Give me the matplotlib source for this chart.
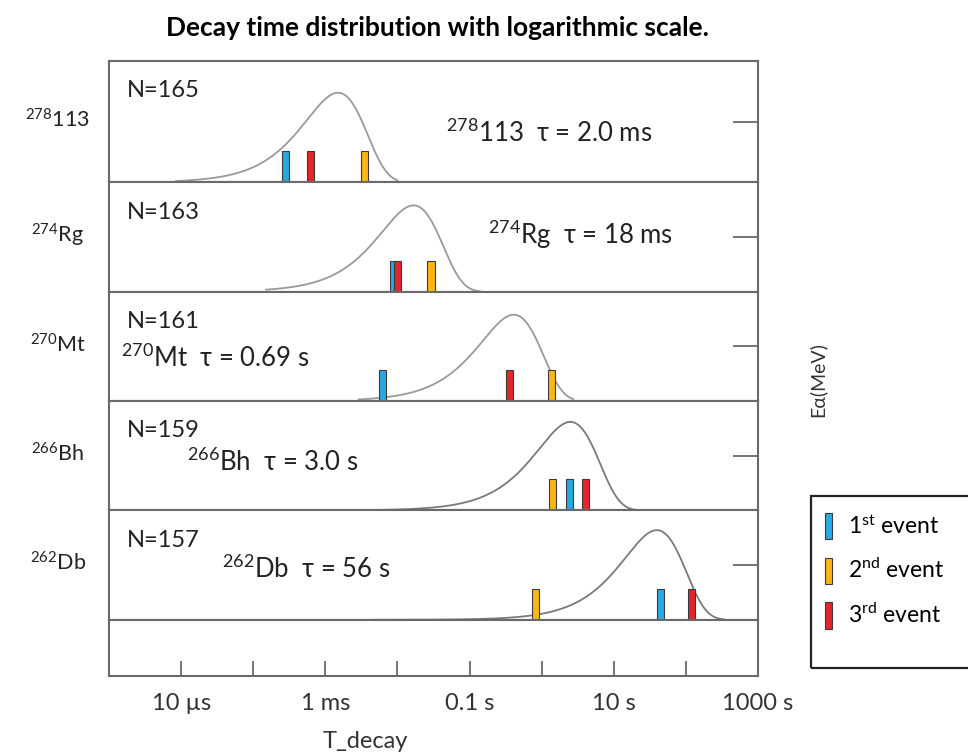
import matplotlib.pyplot as plt
import numpy as np
from matplotlib.patches import Patch, Rectangle

plt.rcParams["font.family"] = ["Lato", "Noto Sans", "DejaVu Sans"]
plt.rcParams["mathtext.fontset"] = "custom"
plt.rcParams["mathtext.rm"] = "Lato"

W, H = 968, 756

masses = ["278", "274", "270", "266", "262"]
symbols = ["113", "Rg", "Mt", "Bh", "Db"]
counts = [165, 163, 161, 159, 157]
tau_labels = ["2.0 ms", "18 ms", "0.69 s", "3.0 s", "56 s"]

# decay time curves, maxima and drawn range (seconds)
peak_times = [1.5e-3, 1.67e-2, 0.41, 2.5, 39.5]
peak_heights = [0.82, 0.79, 0.79, 0.81, 0.82]
curve_start = [8.5e-6, 1.5e-4, 2.9e-3, 2.7e-3, 4.4e-3]
curve_end = [1.0e-2, 0.14, 2.75, 22.0, 340.0]
curve_colors = ["#9a9a9a", "#9a9a9a", "#9a9a9a", "#7a7a7a", "#7a7a7a"]

# observed chains (seconds)
first_event = [2.8e-4, 8.8e-3, 6.3e-3, 2.41, 44.3]
second_event = [3.54e-3, 2.92e-2, 1.38, 1.40, 0.83]
third_event = [6.3e-4, 1.0e-2, 0.36, 4.02, 119.0]

event_names = [r"1$\mathrm{^{st}}$ event", r"2$\mathrm{^{nd}}$ event", r"3$\mathrm{^{rd}}$ event"]
event_colors = ["#29a9e1", "#fbb615", "#e4262b"]

tick_times = [1e-5, 1e-4, 1e-3, 1e-2, 1e-1, 1, 10, 100, 1000]
tick_labels = ["10 µs", "", "1 ms", "", "0.1 s", "", "10 s", "", "1000 s"]

# text layout per panel: (x fraction, baseline offset from panel top in px)
iso_text_pos = [(0.52, 81), (0.584, 61), (0.019, 75), (0.12, 70), (0.174, 67)]

line_color = "#6a6a6a"
heights_px = [121, 109, 109, 109, 109, 56]
unit_px = 109
bar_half = 3.5 / 72  # decades

fig = plt.figure(figsize=(W / 100, H / 100), dpi=100)
gs = fig.add_gridspec(6, 1, height_ratios=heights_px, hspace=0,
                      left=109 / W, right=758 / W, top=1 - 61 / H, bottom=1 - 676 / H)
axes = [fig.add_subplot(gs[i]) for i in range(6)]

for i, ax in enumerate(axes):
    top = heights_px[i] / unit_px
    ax.set_xscale("log")
    ax.set_xlim(1e-6, 1e3)
    ax.set_ylim(0, top)
    for sp in ax.spines.values():
        sp.set_color(line_color)
        sp.set_linewidth(1.5)
    ax.xaxis.set_minor_locator(plt.NullLocator())
    ax.yaxis.set_minor_locator(plt.NullLocator())
    if i < 5:
        ax.set_xticks([])
        ax.yaxis.tick_right()
        ax.set_yticks([top / 2])
        ax.tick_params(axis="y", direction="in", length=18, width=1.3,
                       color=line_color, labelright=False)
    else:
        ax.set_yticks([])
        ax.set_xticks(tick_times)
        ax.set_xticklabels(tick_labels)
        ax.tick_params(axis="x", direction="in", length=11, width=1.3,
                       color=line_color, pad=12, labelsize=17, labelcolor="#333333")

for i in range(5):
    ax = axes[i]
    hpx = heights_px[i]

    t = np.logspace(np.log10(curve_start[i]), np.log10(curve_end[i]), 400)
    u = np.log(t / peak_times[i])
    ax.plot(t, peak_heights[i] * np.exp(1 + u - np.exp(u)),
            color=curve_colors[i], lw=1.3, zorder=2)

    for times, color in zip([first_event, second_event, third_event], event_colors):
        tc = times[i]
        left = tc * 10 ** (-bar_half)
        ax.bar(left, 31 / unit_px, width=tc * 10 ** bar_half - left, align="edge",
               color=color, edgecolor="#3a3a3a", linewidth=0.8, zorder=3)

    ax.text(18 / 649, 1 - 36 / hpx, f"N={counts[i]}", transform=ax.transAxes,
            fontsize=17, va="baseline", color="#222222")
    xf, dy = iso_text_pos[i]
    ax.text(xf, 1 - dy / hpx, rf"$\mathrm{{^{{{masses[i]}}}}}${symbols[i]}  τ = {tau_labels[i]}",
            transform=ax.transAxes, fontsize=18.5, va="baseline", color="#222222")
    ax.text(-51 / 649, 0.5 + 2 / hpx, rf"$\mathrm{{^{{{masses[i]}}}}}${symbols[i]}",
            transform=ax.transAxes, fontsize=15.5, ha="center", va="center", color="#222222")

handles = [Patch(facecolor=c, edgecolor="#3a3a3a", linewidth=0.8) for c in event_colors]
fig.legend(handles, event_names, loc="upper left", bbox_to_anchor=(825 / W, 1 - 513 / H),
           frameon=False, fontsize=16.5, handlelength=0.31, handleheight=1.4,
           handletextpad=0.7, labelspacing=0.79, borderpad=0, borderaxespad=0)
fig.add_artist(Rectangle((811 / W, 1 - 668 / H), 180 / W, 172 / H, transform=fig.transFigure,
                         fill=False, edgecolor="#222222", linewidth=1.6, clip_on=False))

fig.text(437 / W, 1 - 28 / H, "Decay time distribution with logarithmic scale.",
         ha="center", va="center", fontsize=19, fontweight="bold")
fig.text(365 / W, 1 - 742 / H, "T_decay", ha="center", va="center", fontsize=17, color="#333333")
fig.text(817 / W, 1 - 380 / H, "Eα(MeV)", rotation=90, ha="center", va="center",
         fontsize=14, color="#333333")

fig.savefig("out.png", dpi=100)
